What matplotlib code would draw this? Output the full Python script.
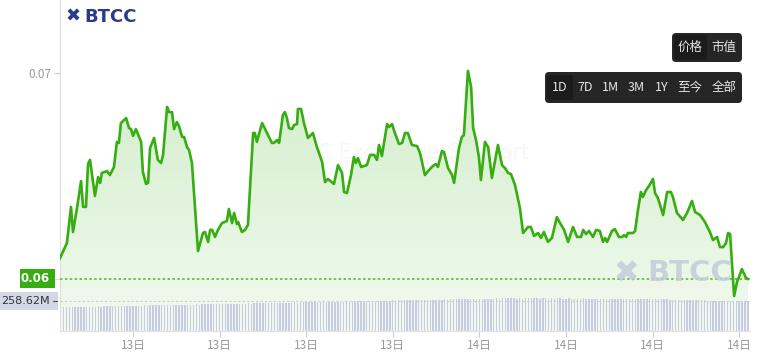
import matplotlib
matplotlib.use("Agg")
import matplotlib.pyplot as plt
import numpy as np
from matplotlib.patches import FancyBboxPatch, Polygon, Rectangle
from matplotlib.colors import LinearSegmentedColormap
import matplotlib.transforms as mtransforms

plt.rcParams['font.family'] = ['Noto Sans CJK SC', 'DejaVu Sans']

# price trace (hours since start of the 1D window, price)
hours = [0.00, 0.24, 0.38, 0.45, 0.59, 0.73, 0.80, 0.90, 0.97, 1.04,
         1.21, 1.32, 1.39, 1.45, 1.63, 1.73, 1.87, 1.97, 2.04, 2.11,
         2.29, 2.39, 2.46, 2.53, 2.63, 2.81, 2.87, 2.98, 3.05, 3.12,
         3.26, 3.39, 3.50, 3.57, 3.71, 3.78, 3.88, 3.95, 4.05, 4.12,
         4.23, 4.30, 4.40, 4.47, 4.57, 4.78, 4.95, 5.02, 5.13, 5.20,
         5.27, 5.37, 5.47, 5.61, 5.78, 5.85, 5.96, 6.03, 6.13, 6.17,
         6.30, 6.41, 6.51, 6.69, 6.75, 6.82, 7.00, 7.17, 7.34, 7.41,
         7.52, 7.59, 7.72, 7.79, 7.86, 7.93, 8.04, 8.11, 8.21, 8.24,
         8.35, 8.45, 8.59, 8.76, 8.90, 9.08, 9.18, 9.28, 9.49, 9.63,
         9.77, 9.84, 9.94, 10.08, 10.18, 10.25, 10.32, 10.43, 10.63, 10.74,
         10.88, 10.98, 11.05, 11.15, 11.33, 11.40, 11.50, 11.60, 11.74, 11.85,
         11.95, 12.05, 12.19, 12.37, 12.47, 12.64, 12.78, 12.92, 13.02, 13.09,
         13.23, 13.30, 13.44, 13.58, 13.65, 13.82, 13.92, 13.99, 14.13, 14.24,
         14.31, 14.41, 14.51, 14.58, 14.72, 14.83, 14.96, 15.17, 15.31, 15.41,
         15.52, 15.62, 15.76, 15.93, 16.04, 16.21, 16.31, 16.42, 16.56, 16.66,
         16.76, 16.90, 17.04, 17.21, 17.32, 17.46, 17.60, 17.77, 17.91, 18.05,
         18.12, 18.22, 18.32, 18.46, 18.57, 18.70, 18.81, 18.88, 18.95, 19.12,
         19.22, 19.36, 19.47, 19.54, 19.61, 19.67, 19.85, 19.92, 20.02, 20.12,
         20.19, 20.30, 20.40, 20.54, 20.61, 20.71, 20.89, 21.03, 21.16, 21.23,
         21.37, 21.58, 21.72, 21.89, 22.00, 22.17, 22.34, 22.51, 22.62, 22.76,
         22.86, 22.97, 23.07, 23.14, 23.21, 23.35, 23.45, 23.62, 23.76, 23.83]
prices = [0.06106, 0.06179, 0.06353, 0.06232, 0.06348, 0.06478, 0.06353, 0.06353, 0.06560, 0.06580,
          0.06406, 0.06497, 0.06469, 0.06517, 0.06526, 0.06507, 0.06546, 0.06667, 0.06662, 0.06758,
          0.06782, 0.06734, 0.06729, 0.06696, 0.06729, 0.06667, 0.06522, 0.06464, 0.06469, 0.06638,
          0.06686, 0.06580, 0.06565, 0.06604, 0.06836, 0.06811, 0.06811, 0.06729, 0.06763, 0.06744,
          0.06691, 0.06691, 0.06642, 0.06628, 0.06565, 0.06140, 0.06227, 0.06232, 0.06184, 0.06242,
          0.06242, 0.06208, 0.06242, 0.06275, 0.06285, 0.06343, 0.06275, 0.06324, 0.06270, 0.06280,
          0.06232, 0.06242, 0.06266, 0.06710, 0.06710, 0.06667, 0.06758, 0.06710, 0.06662, 0.06662,
          0.06676, 0.06662, 0.06797, 0.06811, 0.06782, 0.06734, 0.06729, 0.06749, 0.06753, 0.06826,
          0.06826, 0.06758, 0.06686, 0.06710, 0.06642, 0.06570, 0.06473, 0.06488, 0.06464, 0.06555,
          0.06517, 0.06425, 0.06420, 0.06507, 0.06594, 0.06565, 0.06589, 0.06546, 0.06555, 0.06604,
          0.06604, 0.06580, 0.06652, 0.06599, 0.06753, 0.06739, 0.06753, 0.06710, 0.06657, 0.06662,
          0.06710, 0.06710, 0.06652, 0.06647, 0.06613, 0.06507, 0.06531, 0.06551, 0.06560, 0.06546,
          0.06623, 0.06618, 0.06541, 0.06507, 0.06469, 0.06638, 0.06691, 0.06700, 0.07010, 0.06932,
          0.06734, 0.06676, 0.06594, 0.06483, 0.06667, 0.06642, 0.06493, 0.06652, 0.06555, 0.06541,
          0.06517, 0.06512, 0.06459, 0.06348, 0.06227, 0.06256, 0.06256, 0.06213, 0.06227, 0.06203,
          0.06232, 0.06184, 0.06203, 0.06304, 0.06275, 0.06242, 0.06184, 0.06256, 0.06208, 0.06208,
          0.06242, 0.06222, 0.06237, 0.06208, 0.06242, 0.06237, 0.06184, 0.06203, 0.06184, 0.06237,
          0.06246, 0.06208, 0.06208, 0.06217, 0.06208, 0.06227, 0.06227, 0.06237, 0.06338, 0.06425,
          0.06401, 0.06435, 0.06454, 0.06488, 0.06420, 0.06396, 0.06314, 0.06425, 0.06425, 0.06401,
          0.06324, 0.06290, 0.06324, 0.06382, 0.06328, 0.06314, 0.06280, 0.06232, 0.06193, 0.06208,
          0.06159, 0.06159, 0.06179, 0.06227, 0.06222, 0.05923, 0.05990, 0.06053, 0.06010, 0.06005]

# volume (millions), one bar per 6 minutes
volume = [205, 206, 204, 207, 206, 208, 207, 209, 208, 210,
          209, 211, 210, 212, 211, 213, 212, 214, 213, 215,
          214, 216, 215, 217, 216, 218, 217, 219, 218, 220,
          219, 221, 220, 222, 221, 223, 222, 224, 223, 225,
          224, 226, 225, 227, 226, 228, 227, 229, 228, 230,
          229, 231, 230, 232, 231, 233, 232, 234, 233, 235,
          234, 236, 235, 237, 236, 238, 237, 239, 238, 240,
          239, 241, 240, 242, 241, 243, 242, 244, 243, 245,
          244, 246, 245, 247, 246, 248, 247, 249, 248, 250,
          249, 251, 250, 252, 251, 253, 252, 254, 253, 255,
          254, 256, 255, 257, 256, 258, 257, 259, 258, 260,
          259, 261, 260, 262, 261, 263, 262, 264, 263, 265,
          264, 266, 265, 267, 266, 268, 267, 269, 268, 270,
          269, 271, 270, 272, 271, 273, 272, 274, 273, 275,
          274, 276, 275, 277, 276, 278, 277, 279, 278, 280,
          279, 281, 280, 282, 281, 283, 282, 281, 280, 281,
          280, 282, 281, 283, 282, 281, 280, 282, 281, 280,
          281, 280, 282, 281, 280, 279, 281, 280, 279, 280,
          279, 281, 280, 279, 278, 280, 279, 278, 279, 278,
          278, 279, 277, 278, 277, 276, 277, 276, 277, 276,
          276, 275, 276, 275, 274, 275, 274, 273, 274, 273,
          272, 271, 271, 270, 269, 268, 268, 267, 266, 266,
          265, 264, 264, 263, 262, 262, 261, 261, 260, 260,
          260, 259, 259, 259, 259, 259, 258.8, 258.7, 258.6, 258.62]
vol_hours = [i * 0.1 for i in range(len(volume))]

tick_hours = [2.53, 5.53, 8.53, 11.53, 14.53, 17.53, 20.53, 23.53]
tick_labels = ["13日", "13日", "13日", "13日", "14日", "14日", "14日", "14日"]
range_buttons = ["1D", "7D", "1M", "3M", "1Y", "至今", "全部"]
mode_buttons = ["价格", "市值"]

green = "#36ad10"
W, H = 757, 362
fig = plt.figure(figsize=(W / 100, H / 100), dpi=100)
pos = [60 / W, 1 - 331 / H, 690 / W, 331 / H]
xlim = (0, 23.9)
ylim = (0.057537, 0.073524)
vtop = 258.62 * 331 / 30

# gradient area under the price line
bg = fig.add_axes(pos)
bg.set_xlim(*xlim)
bg.set_ylim(*ylim)
bg.axis("off")
cmap = LinearSegmentedColormap.from_list("g", ["#f2faf0", "#d2edca"])
grad = np.linspace(0, 1, 256).reshape(-1, 1)
img = bg.imshow(grad, cmap=cmap, origin="lower", aspect="auto",
                extent=[xlim[0], xlim[1], ylim[0], max(prices)], zorder=0)
poly = Polygon(list(zip(hours, prices)) + [(hours[-1], ylim[0]), (hours[0], ylim[0])],
               closed=True, facecolor="none", edgecolor="none")
bg.add_patch(poly)
img.set_clip_path(poly)
bg.text(11.9, 0.06615, "BTCC Exchange Support", ha="center", va="center",
        fontsize=15, color="#e6ece4", alpha=0.35, family="DejaVu Sans")

# volume bars
vax = fig.add_axes(pos)
vax.bar(vol_hours, volume, width=0.05, align="edge", color="#c6cce2",
        linewidth=0, antialiased=False)
vax.set_xlim(*xlim)
vax.set_ylim(0, vtop)
vax.axhline(volume[-1], color="#cfcfcf", lw=0.8, ls=(0, (2, 2)))
vax.axis("off")
vax.patch.set_alpha(0)

# price line layer
ax = fig.add_axes(pos)
ax.patch.set_alpha(0)
ax.plot(hours, prices, color=green, lw=1.9, solid_joinstyle="round", zorder=5)
ax.axhline(prices[-1], color="#44bb14", lw=1.1, ls=(0, (1.6, 1.6)), zorder=4)
ax.set_xlim(*xlim)
ax.set_ylim(*ylim)
for s in ["top", "right"]:
    ax.spines[s].set_visible(False)
ax.spines["left"].set_color("#dddddd")
ax.spines["bottom"].set_color("#e2e2e2")
ax.set_xticks(tick_hours)
ax.set_xticklabels(tick_labels)
ax.set_yticks([0.07])
ax.set_yticklabels(["0.07"])
ax.tick_params(axis="both", colors="#cccccc", labelcolor="#9a9a9a", labelsize=8.5,
               length=4, width=0.8, pad=2)

# last price / last volume labels
blend = mtransforms.blended_transform_factory(ax.transAxes, ax.transData)
ax.add_patch(Rectangle((-40 / 690, prices[-1] - 0.00046), 35 / 690, 0.00092,
                       transform=blend, fc=green, ec="none", clip_on=False, zorder=6))
ax.text(-10 / 690, prices[-1], f"{prices[-1]:.2f}", transform=blend, ha="right", va="center",
        fontsize=8.5, color="white", fontweight="bold", family="DejaVu Sans", zorder=7)
ax.plot([-5 / 690, -1 / 690], [prices[-1]] * 2, transform=blend, color="#dddddd",
        lw=0.8, clip_on=False, zorder=7)
vblend = mtransforms.blended_transform_factory(vax.transAxes, vax.transData)
vax.add_patch(Rectangle((-60 / 690, volume[-1] - 78), 58 / 690, 156,
                        transform=vblend, fc="#d3d7e6", ec="none", clip_on=False, zorder=6))
vax.text(-10 / 690, volume[-1], f"{volume[-1]:.2f}M", transform=vblend, ha="right",
         va="center", fontsize=8, color="#333333", family="DejaVu Sans", clip_on=False, zorder=7)
vax.plot([-7 / 690, -3 / 690], [volume[-1]] * 2, transform=vblend, color="#555555",
         lw=0.8, clip_on=False, zorder=7)

# overlay in pixel coordinates for logo and buttons
ov = fig.add_axes([0, 0, 1, 1])
ov.set_xlim(0, W)
ov.set_ylim(H, 0)
ov.axis("off")
ov.patch.set_alpha(0)

ov.text(73, 17, "✖", ha="center", va="center", fontsize=13, color="#2d3a8c",
        family="DejaVu Sans", fontweight="bold")
ov.text(84, 17, "BTCC", ha="left", va="center", fontsize=13, color="#2d3a8c",
        family="DejaVu Sans", fontweight="bold")
ov.text(626, 273, "✖", ha="center", va="center", fontsize=22, color="#c4ccd8",
        family="DejaVu Sans", fontweight="bold", alpha=0.85)
ov.text(647, 273, "BTCC", ha="left", va="center", fontsize=21, color="#c4ccd8",
        family="DejaVu Sans", fontweight="bold", alpha=0.85)

ov.add_patch(FancyBboxPatch((672, 33), 70, 29, boxstyle="round,pad=0,rounding_size=4",
                            fc="#262626", ec="none"))
ov.add_patch(FancyBboxPatch((674, 35), 33, 25, boxstyle="round,pad=0,rounding_size=3",
                            fc="#1b1b1b", ec="none"))
for label, cx in zip(mode_buttons, [690, 724]):
    ov.text(cx, 47.5, label, ha="center", va="center", fontsize=9, color="#e6e6e6")

ov.add_patch(FancyBboxPatch((545, 72), 197, 31, boxstyle="round,pad=0,rounding_size=4",
                            fc="#262626", ec="none"))
ov.add_patch(FancyBboxPatch((547, 75), 26, 25, boxstyle="round,pad=0,rounding_size=3",
                            fc="#1b1b1b", ec="none"))
for label, cx in zip(range_buttons, [560, 585, 610, 636, 662, 690, 724]):
    ov.text(cx, 87.5, label, ha="center", va="center", fontsize=9, color="#e6e6e6")

fig.savefig("out.png", dpi=100)
